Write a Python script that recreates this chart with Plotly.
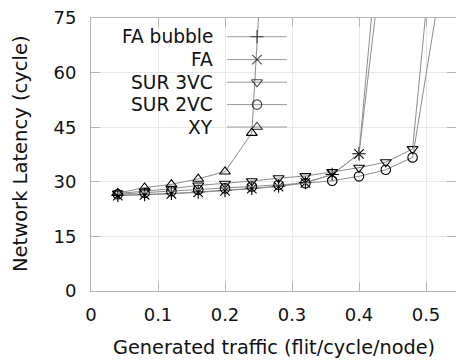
import plotly.graph_objects as go

# ---- data ----
traffic = [0.04, 0.08, 0.12, 0.16, 0.20, 0.24, 0.28, 0.32, 0.36, 0.40, 0.44, 0.48, 0.52]

series_names = ["FA bubble", "FA", "SUR 3VC", "SUR 2VC", "XY"]
fa_bubble = [26.3, 26.5, 26.8, 27.2, 27.6, 28.2, 28.8, 29.8, 32.0, 37.7, 118.0]
fa = [26.2, 26.4, 26.7, 27.1, 27.5, 28.1, 28.7, 29.7, 32.0, 37.7, 100.0]
sur_3vc = [26.8, 27.4, 28.1, 29.0, 29.5, 30.2, 31.0, 31.6, 32.7, 33.9, 35.4, 39.0, 115.0]
sur_2vc = [26.6, 27.0, 27.4, 27.8, 28.2, 28.7, 29.2, 29.6, 30.3, 31.5, 33.3, 36.7, 82.0]
xy = [26.9, 28.4, 29.3, 30.8, 32.8, 43.4, 170.0]

x_ticks = [0, 0.1, 0.2, 0.3, 0.4, 0.5]
y_ticks = [0, 15, 30, 45, 60, 75]

# ---- styles ----
symbols = ["cross-thin", "x-thin", "triangle-down-open", "circle-open", "triangle-up-open"]
values = [fa_bubble, fa, sur_3vc, sur_2vc, xy]
FONT = "DejaVu Sans"
LINE_GRAY = "#8c8c8c"
AXIS_GRAY = "#b4b4b4"
MSIZE = 9.5

fig = go.Figure()

for name, vals, sym in zip(series_names, values, symbols):
    fig.add_trace(go.Scatter(
        x=traffic[:len(vals)], y=vals, mode="lines+markers", name=name,
        line=dict(color=LINE_GRAY, width=1),
        marker=dict(symbol=sym, size=MSIZE, color="black",
                    line=dict(color="black", width=1.1)),
        showlegend=False, cliponaxis=True,
    ))

# ---- custom gnuplot-style legend (text left, sample right) ----
W, H = 456, 362
L, R, T, B = 91, 0, 18, 71
pw, ph = W - L - R, H - T - B

def px_x(p):
    return (p - L) / pw

def px_y(p):
    return (H - B - p) / ph

row_px = [36.7, 59.6, 82.2, 104.6, 127.0]
for name, sym, ry in zip(series_names, symbols, row_px):
    yy = px_y(ry)
    fig.add_trace(go.Scatter(
        x=[px_x(227), px_x(257), px_x(287)], y=[yy, yy, yy],
        xaxis="x2", yaxis="y2", mode="lines+markers",
        line=dict(color="#999999", width=1),
        marker=dict(symbol=sym, size=[0, MSIZE, 0], color="black",
                    line=dict(color="black", width=1.1)),
        showlegend=False, hoverinfo="skip",
    ))
    fig.add_annotation(text=name, xref="paper", yref="paper",
                       x=px_x(215), y=yy, xanchor="right", yanchor="middle",
                       showarrow=False, font=dict(family=FONT, size=18.6, color="#111"))

fig.add_shape(type="rect", xref="paper", yref="paper",
              x0=px_x(92), x1=px_x(298), y0=px_y(139), y1=px_y(18.5),
              fillcolor="white", line=dict(width=0), layer="between")

# axis titles
fig.add_annotation(text="Generated traffic (flit/cycle/node)", xref="paper", yref="paper",
                   x=0.5, y=px_y(347), xanchor="center", yanchor="middle",
                   showarrow=False, font=dict(family=FONT, size=19.3, color="#111"))
fig.add_annotation(text="Network Latency (cycle)", xref="paper", yref="paper",
                   x=px_x(20), y=px_y(154), xanchor="center", yanchor="middle",
                   textangle=-90, showarrow=False,
                   font=dict(family=FONT, size=19.5, color="#111"))

axis_common = dict(showline=True, linecolor=AXIS_GRAY, linewidth=1, mirror="ticks",
                   ticks="inside", ticklen=9, tickcolor=AXIS_GRAY, tickwidth=1,
                   showgrid=True, gridcolor="#e8e8e8", gridwidth=1, zeroline=False,
                   tickfont=dict(family=FONT, size=18, color="#111"))

fig.update_layout(
    width=W, height=H,
    margin=dict(l=L, r=R, t=T, b=B, autoexpand=False),
    paper_bgcolor="white", plot_bgcolor="white",
    font=dict(family=FONT, color="#111"),
    xaxis=dict(range=[0, pw / 670.0], tickvals=x_ticks, ticktext=[str(v) for v in x_ticks],
               ticklabelstandoff=7, **axis_common),
    yaxis=dict(range=[0, 75], tickvals=y_ticks, ticklabelstandoff=10, **axis_common),
    xaxis2=dict(range=[0, 1], overlaying="x", visible=False, fixedrange=True),
    yaxis2=dict(range=[0, 1], overlaying="y", visible=False, fixedrange=True),
    showlegend=False,
)

fig.write_html("out.html", config={"displayModeBar": False},
               post_script="document.body.style.margin='0';document.body.style.padding='0';")
